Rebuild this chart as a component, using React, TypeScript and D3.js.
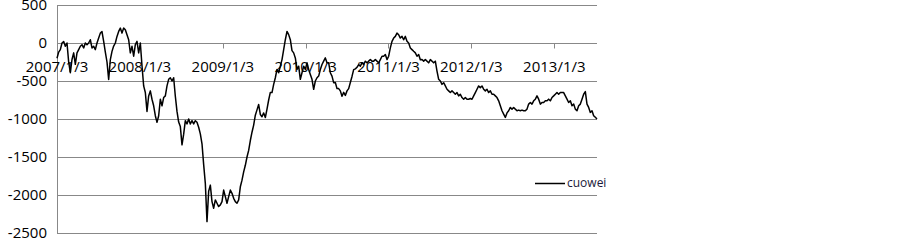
import React, { useEffect, useRef } from 'react';
import * as d3 from 'd3';

// series, roughly one value per week
const values: number[] = [
  -200, -120, -87, 0, 20, -43, 0, -250, -390, -217,
  -130, -280, -130, -87, -43, -22, -65, 0, -22, 0,
  43, -65, -43, -87, 0, 65, 130, 150, 20, -120,
  -250, -480, -220, -110, -40, 0, 87, 152, 196, 130,
  196, 174, 109, 43, -130, -43, -174, -22, 22, -130,
  0, -300, -565, -652, -900, -696, -630, -740, -826, -957,
  -1044, -957, -740, -826, -718, -696, -565, -478, -457, -500,
  -457, -700, -900, -1040, -1100, -1340, -1200, -1022, -1065, -1000,
  -1065, -1022, -1065, -1022, -1044, -1109, -1196, -1326, -1600, -1848,
  -2350, -1950, -1870, -2087, -2174, -2065, -2109, -2152, -2130, -2087,
  -1935, -2022, -2109, -2022, -1935, -1978, -2044, -2087, -2109, -2065,
  -1892, -1805, -1696, -1609, -1500, -1413, -1283, -1174, -1080, -950,
  -880, -810, -940, -970, -920, -980, -870, -750, -650, -652,
  -544, -457, -348, -391, -305, -218, -87, 43, 152, 110,
  43, -100, -130, -196, -348, -305, -478, -391, -305, -348,
  -261, -348, -413, -478, -609, -500, -457, -435, -348, -283,
  -239, -196, -261, -261, -391, -435, -522, -520, -600, -600,
  -630, -700, -650, -690, -630, -600, -520, -440, -350, -340,
  -320, -283, -305, -261, -283, -239, -261, -239, -218, -239,
  -239, -218, -239, -261, -218, -174, -174, -152, -218, -174,
  -65, 22, 65, 87, 130, 109, 65, 87, 43, 87,
  22, 0, -65, -87, -109, -130, -174, -152, -220, -218,
  -239, -218, -239, -261, -218, -239, -261, -239, -370, -478,
  -500, -544, -522, -565, -609, -630, -652, -630, -652, -674,
  -652, -696, -674, -718, -740, -718, -740, -740, -730, -740,
  -696, -652, -609, -565, -587, -565, -609, -630, -609, -652,
  -630, -674, -674, -696, -718, -761, -826, -891, -935, -979,
  -920, -891, -848, -870, -848, -870, -891, -883, -891, -883,
  -891, -891, -870, -804, -783, -804, -761, -739, -696, -739,
  -804, -783, -783, -761, -761, -739, -761, -717, -696, -674,
  -652, -674, -652, -652, -652, -696, -739, -783, -761, -826,
  -804, -870, -891, -826, -804, -739, -674, -640, -804, -848,
  -913, -891, -957, -978, -1000,
];

const startDate = new Date(2007, 0, 3);
const endDate = new Date(2013, 6, 10);
const yearTicks = [2007, 2008, 2009, 2010, 2011, 2012, 2013];
const yTicks = [500, 0, -500, -1000, -1500, -2000, -2500];
const seriesName = 'cuowei';

export default function App() {
  const svgRef = useRef<SVGSVGElement>(null);

  useEffect(() => {
    if (!svgRef.current) return;
    const svg = d3.select(svgRef.current);
    svg.selectAll('*').remove();

    const left = 57, right = 597, top = 5, bottom = 233;
    const font = "'Open Sans', sans-serif";
    const grey = '#888888';

    const x = d3.scaleTime().domain([startDate, endDate]).range([left, right]);
    const y = d3.scaleLinear().domain([-2500, 500]).range([bottom, top]);
    const idx = d3.scaleLinear()
      .domain([0, values.length - 1])
      .range([startDate.getTime(), endDate.getTime()]);

    // horizontal grid
    svg.append('g')
      .selectAll('line')
      .data(yTicks)
      .join('line')
      .attr('x1', left)
      .attr('x2', right)
      .attr('y1', d => Math.round(y(d)) + 0.5)
      .attr('y2', d => Math.round(y(d)) + 0.5)
      .attr('stroke', grey)
      .attr('stroke-width', 1);

    // y axis line
    svg.append('line')
      .attr('x1', left + 0.5).attr('x2', left + 0.5)
      .attr('y1', y(500)).attr('y2', y(-2500) + 0.5)
      .attr('stroke', grey);

    // y labels
    svg.append('g')
      .selectAll('text')
      .data(yTicks)
      .join('text')
      .attr('x', 47)
      .attr('y', d => y(d))
      .attr('dy', '0.36em')
      .attr('text-anchor', 'end')
      .style('font-family', font)
      .style('font-size', '15px')
      .attr('fill', '#000')
      .text(d => String(d));

    // x axis ticks on the zero line
    const ticks = yearTicks.map(yr => new Date(yr, 0, 3));
    const zeroY = Math.round(y(0)) + 0.5;
    svg.append('g')
      .selectAll('line')
      .data(ticks)
      .join('line')
      .attr('x1', d => Math.round(x(d)) + 0.5)
      .attr('x2', d => Math.round(x(d)) + 0.5)
      .attr('y1', zeroY)
      .attr('y2', zeroY + 5)
      .attr('stroke', grey);

    svg.append('g')
      .selectAll('text')
      .data(ticks)
      .join('text')
      .attr('x', d => x(d))
      .attr('y', 72)
      .attr('text-anchor', 'middle')
      .style('font-family', font)
      .style('font-size', '15px')
      .attr('fill', '#000')
      .text(d => `${d.getFullYear()}/1/3`);

    // series line
    const line = d3.line<number>()
      .x((_, i) => x(new Date(idx(i))))
      .y(d => y(d));

    svg.append('path')
      .datum(values)
      .attr('d', line)
      .attr('fill', 'none')
      .attr('stroke', '#000')
      .attr('stroke-width', 1.5)
      .attr('stroke-linejoin', 'round');

    // legend
    svg.append('line')
      .attr('x1', 535).attr('x2', 565)
      .attr('y1', 183.5).attr('y2', 183.5)
      .attr('stroke', '#000')
      .attr('stroke-width', 1.5);

    svg.append('text')
      .attr('x', 567)
      .attr('y', 183)
      .attr('dy', '0.35em')
      .style('font-family', font)
      .style('font-size', '12px')
      .attr('fill', '#1a1a3a')
      .text(seriesName);
  }, []);

  return (
    <svg
      ref={svgRef}
      width={903}
      height={240}
      style={{ position: 'absolute', left: 0, top: 0, background: '#fff' }}
    />
  );
}
